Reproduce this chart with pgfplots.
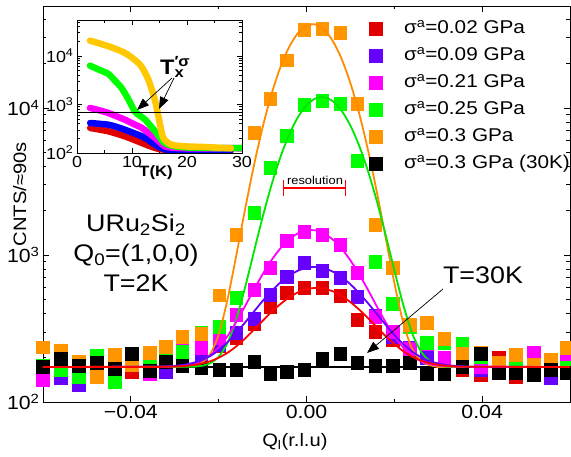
\documentclass[border=0pt]{standalone}
\usepackage{fontspec}
\setmainfont[FakeStretch=1.12]{Liberation Sans}
\usepackage{pgfplots}
\pgfplotsset{compat=1.18}
\usetikzlibrary{arrows.meta}
\definecolor{cRed}{RGB}{225,0,0}
\definecolor{cRedL}{RGB}{255,0,0}
\definecolor{cVio}{RGB}{102,0,255}
\definecolor{cMag}{RGB}{255,0,255}
\definecolor{cGrn}{RGB}{0,255,0}
\definecolor{cGrnL}{RGB}{0,230,0}
\definecolor{cOrg}{RGB}{255,150,0}
\definecolor{cOrgL}{RGB}{255,140,0}
\definecolor{cGold}{RGB}{255,200,0}
\definecolor{cBlu}{RGB}{0,0,255}
\pgfplotsset{
  sq/.style={only marks, mark=square*, mark size=6.3pt, color=#1,
    mark options={draw=#1, fill=#1, line width=0pt, solid},
    legend image code/.code={\draw[mark repeat=2,mark phase=2,##1] plot coordinates {(0pt,0pt) (7pt,0pt) (14pt,0pt)};},
    error bars/.cd, y dir=both, y fixed relative=0.06,
    error bar style={line width=0.7pt, #1},
    error mark options={rotate=90, mark size=4.5pt, line width=0.7pt, #1}},
  fit/.style={#1, line width=1.8pt, smooth, no marks, forget plot},
  ins/.style={#1, line width=6.5pt, line cap=round, line join=round, smooth, no marks}
}
\begin{document}
\begin{tikzpicture}
\begin{axis}[
  at={(0pt,0pt)}, anchor=south west, scale only axis, width=527pt, height=396pt,
  clip mode=individual,
  xmin=-0.06, xmax=0.06, ymode=log, ymin=100, ymax=49400,
  scaled x ticks=false,
  xtick={-0.04,0,0.04}, xticklabels={−0.04,0.00,0.04}, minor xtick={-0.02,0.02},
  ytick={100,1000,10000}, yticklabels={10\textsuperscript{2},10\textsuperscript{3},10\textsuperscript{4}},
  minor ytick={200,300,400,500,600,700,800,900,2000,3000,4000,5000,6000,7000,8000,9000,20000,30000,40000},
  tick align=inside, major tick length=6pt, minor tick length=3.5pt,
  axis line style={line width=0.8pt}, every tick/.style={black, line width=0.7pt},
  tick label style={font=\fontsize{19}{19}\selectfont},
  xlabel={Q\textsubscript{l}(r.l.u)}, ylabel={CNTS/≈90s},
  label style={font=\fontsize{18}{18}\selectfont},
  xlabel style={at={(axis description cs:0.478,-0.101)}, anchor=center},
  ylabel style={at={(axis description cs:-0.044,0.525)}, anchor=center},
  legend style={at={(0.619,0.968)}, anchor=north west, draw=none, fill=none, inner sep=0pt,
    row sep=7pt, font=\fontsize{18.5}{18.5}\selectfont,
    nodes={text height=12.5pt, text depth=3.5pt, inner sep=2pt},
    /tikz/every odd column/.append style={column sep=20pt}},
  legend cell align=left,
]
\addplot[sq=cRed] coordinates {(-0.0600,170) (-0.0559,165) (-0.0518,175) (-0.0477,170) (-0.0436,193) (-0.0398,160) (-0.0357,185) (-0.0320,202) (-0.0282,175) (-0.0239,215) (-0.0198,240) (-0.0159,272) (-0.0118,340) (-0.0082,443) (-0.0045,551) (-0.0005,597) (0.0036,597) (0.0077,526) (0.0116,361) (0.0157,299) (0.0197,264) (0.0236,232) (0.0275,209) (0.0314,175) (0.0355,165) (0.0398,153) (0.0438,200) (0.0477,148) (0.0518,175) (0.0557,160) (0.0593,165)};
\addlegendentry{σ\textsuperscript{a}=0.02 GPa}
\addplot[sq=cVio] coordinates {(-0.0600,150) (-0.0559,146) (-0.0518,131) (-0.0477,155) (-0.0436,160) (-0.0398,185) (-0.0357,175) (-0.0320,160) (-0.0282,200) (-0.0239,209) (-0.0198,245) (-0.0159,295) (-0.0118,367) (-0.0082,535) (-0.0045,708) (-0.0005,883) (0.0036,778) (0.0077,698) (0.0116,518) (0.0157,385) (0.0197,277) (0.0236,233) (0.0275,200) (0.0314,185) (0.0355,175) (0.0398,165) (0.0438,160) (0.0477,170) (0.0518,160) (0.0557,145) (0.0593,170)};
\addlegendentry{σ\textsuperscript{a}=0.09 GPa}
\addplot[sq=cMag] coordinates {(-0.0600,141) (-0.0559,170) (-0.0518,170) (-0.0477,165) (-0.0436,170) (-0.0398,180) (-0.0357,155) (-0.0320,190) (-0.0282,237) (-0.0239,233) (-0.0198,272) (-0.0159,391) (-0.0118,578) (-0.0082,816) (-0.0045,1245) (-0.0005,1430) (0.0036,1368) (0.0077,1170) (0.0116,755) (0.0157,379) (0.0197,299) (0.0236,230) (0.0275,248) (0.0314,199) (0.0355,188) (0.0398,173) (0.0438,165) (0.0477,205) (0.0518,215) (0.0557,190) (0.0593,187)};
\addlegendentry{σ\textsuperscript{a}=0.21 GPa}
\addplot[sq=cGrn] coordinates {(-0.0600,175) (-0.0559,165) (-0.0518,148) (-0.0477,205) (-0.0436,137) (-0.0398,199) (-0.0357,175) (-0.0320,190) (-0.0282,219) (-0.0239,297) (-0.0198,324) (-0.0159,510) (-0.0118,1930) (-0.0082,3900) (-0.0045,6450) (-0.0005,10480) (0.0036,11160) (0.0077,10650) (0.0116,4360) (0.0157,897) (0.0197,464) (0.0236,324) (0.0275,252) (0.0314,252) (0.0355,248) (0.0398,202) (0.0438,180) (0.0477,196) (0.0518,175) (0.0557,184) (0.0593,170)};
\addlegendentry{σ\textsuperscript{a}=0.25 GPa}
\addplot[sq=cOrg] coordinates {(-0.0600,235) (-0.0559,222) (-0.0518,187) (-0.0477,148) (-0.0436,209) (-0.0398,179) (-0.0357,215) (-0.0320,237) (-0.0282,277) (-0.0239,290) (-0.0198,530) (-0.0159,1370) (-0.0118,6760) (-0.0082,11500) (-0.0045,21100) (-0.0005,34000) (0.0036,34400) (0.0077,32400) (0.0116,10650) (0.0157,1600) (0.0197,816) (0.0236,334) (0.0275,345) (0.0314,268) (0.0355,212) (0.0398,215) (0.0438,185) (0.0477,209) (0.0518,179) (0.0557,193) (0.0593,233)};
\addlegendentry{σ\textsuperscript{a}=0.3 GPa}
\addplot[sq=black] coordinates {(-0.0600,173) (-0.0559,196) (-0.0518,176) (-0.0477,184) (-0.0436,168) (-0.0398,212) (-0.0357,162) (-0.0320,187) (-0.0282,176) (-0.0239,170) (-0.0198,165) (-0.0159,165) (-0.0118,187) (-0.0082,155) (-0.0045,160) (-0.0005,165) (0.0036,196) (0.0077,212) (0.0116,184) (0.0157,176) (0.0197,176) (0.0236,184) (0.0275,155) (0.0314,155) (0.0355,173) (0.0398,212) (0.0438,158) (0.0477,158) (0.0518,153) (0.0557,165) (0.0593,158)};
\addlegendentry{σ\textsuperscript{a}=0.3 GPa (30K)}
% fitted curves
\addplot[fit=black] coordinates {(-0.06,173) (0.06,173)};
\addplot[fit=cOrgL] coordinates {(-0.06,173) (-0.030,174) (-0.028,175) (-0.026,176) (-0.024,184) (-0.022,210) (-0.020,288) (-0.018,496) (-0.016,989) (-0.014,2037) (-0.012,4025) (-0.010,7370) (-0.008,12331) (-0.006,18733) (-0.004,25799) (-0.002,32160) (0.000,36270) (0.002,37006) (0.004,34150) (0.006,28515) (0.008,21544) (0.010,14747) (0.012,9157) (0.014,5180) (0.016,2697) (0.018,1324) (0.020,647) (0.022,349) (0.024,232) (0.026,191) (0.028,178) (0.030,174) (0.032,173) (0.06,173)};
\addplot[fit=cGrnL] coordinates {(-0.06,173) (-0.028,173.5) (-0.026,174) (-0.024,176) (-0.022,183) (-0.020,203) (-0.018,252) (-0.016,365) (-0.014,599) (-0.012,1043) (-0.010,1803) (-0.008,2973) (-0.006,4582) (-0.004,6541) (-0.002,8609) (0.000,10421) (0.002,11592) (0.004,11841) (0.006,11108) (0.008,9572) (0.010,7583) (0.012,5530) (0.014,3725) (0.016,2333) (0.018,1377) (0.020,789) (0.022,462) (0.024,297) (0.026,222) (0.028,191) (0.030,179) (0.032,175) (0.034,173.5) (0.06,173)};
\addplot[fit=cMag] coordinates {(-0.06,173) (-0.034,173.5) (-0.032,174) (-0.030,175) (-0.028,177) (-0.026,181) (-0.024,190) (-0.022,207) (-0.020,235) (-0.018,280) (-0.016,350) (-0.014,448) (-0.012,579) (-0.010,739) (-0.008,919) (-0.006,1104) (-0.004,1272) (-0.002,1401) (0.000,1471) (0.002,1471) (0.004,1401) (0.006,1272) (0.008,1104) (0.010,919) (0.012,739) (0.014,579) (0.016,448) (0.018,350) (0.020,280) (0.022,235) (0.024,207) (0.026,190) (0.028,181) (0.030,177) (0.032,175) (0.034,174) (0.036,173.5) (0.06,173)};
\addplot[fit=cVio] coordinates {(-0.06,173) (-0.036,173.5) (-0.034,174) (-0.032,174.5) (-0.030,176) (-0.028,179) (-0.026,184) (-0.024,192) (-0.022,205) (-0.020,225) (-0.018,255) (-0.016,295) (-0.014,347) (-0.012,411) (-0.010,486) (-0.008,567) (-0.006,648) (-0.004,722) (-0.002,781) (0.000,818) (0.002,829) (0.004,812) (0.006,770) (0.008,708) (0.010,632) (0.012,550) (0.014,470) (0.016,398) (0.018,336) (0.020,286) (0.022,248) (0.024,221) (0.026,202) (0.028,190) (0.030,183) (0.032,178) (0.034,176) (0.036,174.5) (0.038,173.8) (0.06,173)};
\addplot[fit=cRedL] coordinates {(-0.06,173) (-0.036,173.2) (-0.034,173.3) (-0.032,173.6) (-0.030,174.3) (-0.028,175.6) (-0.026,178) (-0.024,182) (-0.022,189) (-0.020,200) (-0.018,216) (-0.016,239) (-0.014,270) (-0.012,310) (-0.010,356) (-0.008,409) (-0.006,462) (-0.004,513) (-0.002,556) (0.000,585) (0.002,597) (0.004,590) (0.006,566) (0.008,527) (0.010,478) (0.012,425) (0.014,372) (0.016,323) (0.018,281) (0.020,248) (0.022,222) (0.024,204) (0.026,192) (0.028,184) (0.030,179) (0.032,176) (0.034,174.6) (0.036,173.8) (0.06,173)};
\end{axis}
% inset
\begin{axis}[
  at={(34pt,249pt)}, anchor=south west, scale only axis, width=165pt, height=133pt,
  xmin=0, xmax=30, ymode=log, ymin=100, ymax=55000,
  xtick={0,10,20,30}, xticklabels={0,10,20,30}, minor xtick={5,15,25},
  ytick={100,1000,10000}, yticklabels={10\textsuperscript{2},10\textsuperscript{3},10\textsuperscript{4}},
  minor ytick={200,300,400,500,600,700,800,900,2000,3000,4000,5000,6000,7000,8000,9000,20000,30000,40000,50000},
  axis background/.style={fill=white},
  tick align=inside, major tick length=5pt, minor tick length=3pt,
  axis line style={line width=0.8pt}, every tick/.style={black, line width=0.6pt},
  tick label style={font=\fontsize{16}{16}\selectfont},
  xlabel={T(K)},
  xlabel style={font=\bfseries\fontsize{15}{15}\selectfont, at={(axis description cs:0.479,-0.15)}, anchor=center},
]
\addplot[ins=cRed] coordinates {(2.4,328) (4,305) (5.7,280) (7.2,250) (8.7,221) (10.2,190) (11.8,161) (13,142) (14.2,127) (15,120) (16,117) (18,114) (20,113) (24,113) (28,113)};
\addplot[ins=cBlu] coordinates {(2.4,415) (4,400) (5.7,383) (7.2,345) (8.7,302) (10.2,260) (11.8,221) (13,185) (14.2,148) (15.2,128) (16.3,117) (18,114) (20,115) (24,116) (28,116)};
\addplot[ins=cMag] coordinates {(2.36,847) (4,760) (5.7,668) (7.2,570) (8.7,486) (10.2,400) (11.8,328) (13,260) (14.2,204) (15.1,165) (16,137) (17.5,128) (20,125) (24,124) (28,126) (29.9,124)};
\addplot[ins=cGrn] coordinates {(2.36,6310) (4,5200) (5.7,4250) (7,3000) (8.1,2190) (9.3,1300) (10.5,724) (11.5,580) (12.4,486) (13.3,370) (14.2,280) (15,215) (15.7,169) (16.5,150) (17.8,137) (20,130) (24,127) (27,126) (29.9,127)};
\addplot[ins=cGold] coordinates {(2.36,20660) (4,18200) (5.7,15850) (7.2,13700) (8.7,11530) (10.1,9000) (11.45,6620) (12.3,4700) (12.97,3240) (13.5,2200) (13.9,1590) (14.5,847) (15.1,384) (15.7,204) (16.9,153) (18,142) (19.6,137) (22,134) (23.9,132) (26,128) (28,125)};
\addplot[black, line width=0.8pt] coordinates {(0,700) (30,700)};
\end{axis}
% annotations
\node[align=center, font=\fontsize{24}{30}\selectfont] at (93pt,149pt) {URu\textsubscript{2}Si\textsubscript{2}\\Q\textsubscript{0}=(1,0,0)\\T=2K};
\node[font=\fontsize{24}{24}\selectfont] at (440pt,127pt) {T=30K};
\draw[-{Triangle[length=12pt,width=9pt]}, line width=0.7pt] (400pt,113pt) -- (324pt,49pt);
\node[font=\bfseries\fontsize{21}{21}\selectfont, inner sep=0pt] at (137pt,335pt) {T\rlap{\textsuperscript{′σ}}\textsubscript{x}\hphantom{\textsuperscript{′σ}}};
\draw[-{Triangle[length=12pt,width=9pt]}, line width=0.7pt] (129pt,324pt) -- (94pt,292pt);
\draw[-{Triangle[length=12pt,width=9pt]}, line width=0.7pt] (131pt,324pt) -- (116pt,293pt);
\draw[cRedL, line width=1.8pt] (240pt,214pt) -- (302pt,214pt);
\draw[cRedL, line width=1pt] (240pt,206pt) -- (240pt,222pt) (302pt,206pt) -- (302pt,222pt);
\node[font=\fontsize{11.5}{12}\selectfont] at (272pt,222pt) {resolution};
\pgfresetboundingbox
\useasboundingbox (-43pt,-55pt) rectangle (528pt,402pt);
\end{tikzpicture}
\end{document}
